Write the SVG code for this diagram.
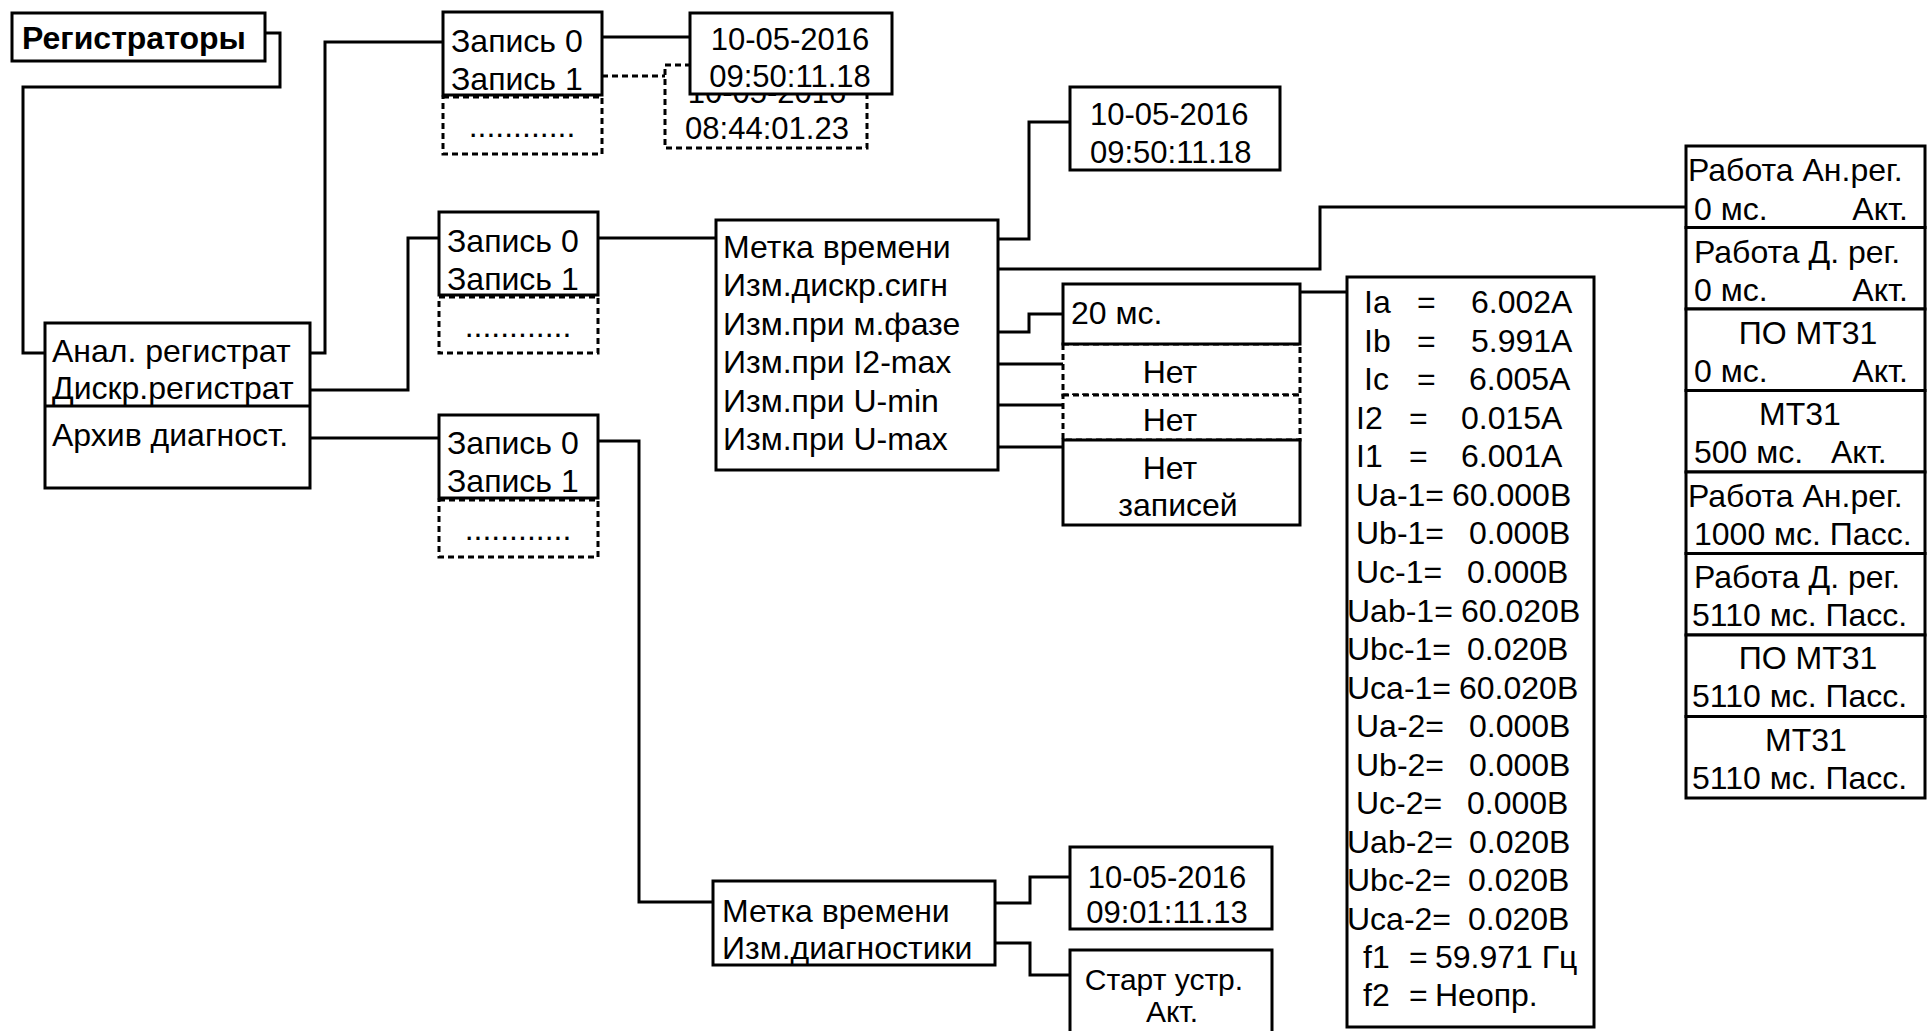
<svg xmlns="http://www.w3.org/2000/svg" width="1931" height="1031" viewBox="0 0 1931 1031">
<style>
.b{fill:#fff;stroke:#000;stroke-width:3}
.d{fill:#fff;stroke:#000;stroke-width:3;stroke-dasharray:6 4}
.c{fill:none;stroke:#000;stroke-width:3}
.cd{fill:none;stroke:#000;stroke-width:3;stroke-dasharray:6 4}
text{font-family:"Liberation Sans",Arial,sans-serif;font-size:32px;fill:#000}
.dt{font-size:31px}
.sm{font-size:30px}
.bold{font-weight:bold}
.m{text-anchor:middle}
.e{text-anchor:end}
</style>
<rect width="1931" height="1031" fill="#fff"/>
<g id="connectors">
<path class="c" d="M265,33 H280 V87 H23 V353 H45"/>
<path class="c" d="M310,353 H325 V42 H443"/>
<path class="c" d="M310,390 H408 V238 H439"/>
<path class="c" d="M310,438 H439"/>
<path class="c" d="M602,37 H690"/>
<path class="cd" d="M602,76 H665"/>
<path class="c" d="M598,238 H716"/>
<path class="c" d="M598,441 H639 V902 H713"/>
<path class="c" d="M998,239 H1029 V122 H1070"/>
<path class="c" d="M998,269 H1320 V207 H1686"/>
<path class="c" d="M998,332 H1029 V314 H1063"/>
<path class="c" d="M998,364 H1063"/>
<path class="c" d="M998,405 H1063"/>
<path class="c" d="M998,447 H1063"/>
<path class="c" d="M1301,292 H1347"/>
<path class="c" d="M995,903 H1030 V877 H1070"/>
<path class="c" d="M995,943 H1030 V975 H1070"/>
</g>
<g id="registratory">
<rect class="b" x="12" y="13" width="253" height="48"/>
<text class="bold" x="22" y="49">Регистраторы</text>
</g>
<g id="menu">
<rect class="b" x="45" y="323" width="265" height="165"/>
<line class="c" x1="45" y1="406" x2="310" y2="406"/>
<text x="52" y="362">Анал. регистрат</text>
<text x="52" y="399">Дискр.регистрат</text>
<text x="52" y="446">Архив диагност.</text>
</g>
<g id="zap-top">
<rect class="d" x="443" y="97" width="159" height="57"/>
<rect class="b" x="443" y="12" width="159" height="83"/>
<text x="451" y="52">Запись 0</text>
<text x="451" y="90">Запись 1</text>
<text class="m" x="522" y="137">............</text>
</g>
<g id="date-old">
<rect class="d" x="665" y="65" width="202" height="83"/>
<text class="m dt" x="767" y="103">10-05-2016</text>
<text class="m dt" x="767" y="139">08:44:01.23</text>
</g>
<g id="date-top">
<rect class="b" x="690" y="13" width="202" height="81"/>
<text class="m dt" x="790" y="50">10-05-2016</text>
<text class="m dt" x="790" y="87">09:50:11.18</text>
</g>
<g id="zap-mid">
<rect class="d" x="439" y="297" width="159" height="56"/>
<rect class="b" x="439" y="212" width="159" height="83"/>
<text x="447" y="252">Запись 0</text>
<text x="447" y="290">Запись 1</text>
<text class="m" x="518" y="337">............</text>
</g>
<g id="zap-bot">
<rect class="d" x="439" y="500" width="159" height="57"/>
<rect class="b" x="439" y="415" width="159" height="83"/>
<text x="447" y="454">Запись 0</text>
<text x="447" y="492">Запись 1</text>
<text class="m" x="518" y="540">............</text>
</g>
<g id="metka">
<rect class="b" x="716" y="220" width="282" height="250"/>
<text x="723" y="258">Метка времени</text>
<text x="723" y="296">Изм.дискр.сигн</text>
<text x="723" y="335">Изм.при м.фазе</text>
<text x="723" y="373">Изм.при I2-max</text>
<text x="723" y="412">Изм.при U-min</text>
<text x="723" y="450">Изм.при U-max</text>
</g>
<g id="date-mid">
<rect class="b" x="1070" y="87" width="210" height="83"/>
<text class="dt" x="1090" y="125">10-05-2016</text>
<text class="dt" x="1090" y="163">09:50:11.18</text>
</g>
<g id="izm">
<rect class="d" x="1063" y="344" width="237" height="51"/>
<rect class="d" x="1063" y="395" width="237" height="45"/>
<rect class="b" x="1063" y="284" width="237" height="60"/>
<rect class="b" x="1063" y="440" width="237" height="85"/>
<text x="1071" y="324">20 мс.</text>
<text class="m" x="1170" y="383">Нет</text>
<text class="m" x="1170" y="431">Нет</text>
<text class="m" x="1170" y="479">Нет</text>
<text class="m" x="1178" y="516">записей</text>
</g>
<g id="values">
<rect class="b" x="1347" y="277" width="247" height="750"/>
<text x="1364" y="313">Ia<tspan x="1417">=</tspan><tspan x="1471">6.002A</tspan></text>
<text x="1364" y="351.6">Ib<tspan x="1417">=</tspan><tspan x="1471">5.991A</tspan></text>
<text x="1364" y="390">Ic<tspan x="1417">=</tspan><tspan x="1469">6.005A</tspan></text>
<text x="1356" y="428.7">I2<tspan x="1409">=</tspan><tspan x="1461">0.015A</tspan></text>
<text x="1356" y="467">I1<tspan x="1409">=</tspan><tspan x="1461">6.001A</tspan></text>
<text x="1356" y="506">Ua-1=<tspan x="1452">60.000B</tspan></text>
<text x="1356" y="544">Ub-1=<tspan x="1469">0.000B</tspan></text>
<text x="1356" y="583">Uc-1=<tspan x="1467">0.000B</tspan></text>
<text x="1347" y="621.5">Uab-1=<tspan x="1461">60.020B</tspan></text>
<text x="1347" y="660">Ubc-1=<tspan x="1467">0.020B</tspan></text>
<text x="1347" y="698.6">Uca-1=<tspan x="1459">60.020B</tspan></text>
<text x="1356" y="737">Ua-2=<tspan x="1469">0.000B</tspan></text>
<text x="1356" y="776">Ub-2=<tspan x="1469">0.000B</tspan></text>
<text x="1356" y="814">Uc-2=<tspan x="1467">0.000B</tspan></text>
<text x="1347" y="853">Uab-2=<tspan x="1469">0.020B</tspan></text>
<text x="1347" y="891">Ubc-2=<tspan x="1468">0.020B</tspan></text>
<text x="1347" y="930">Uca-2=<tspan x="1468">0.020B</tspan></text>
<text x="1363" y="968">f1<tspan x="1409">=</tspan><tspan x="1435">59.971 Гц</tspan></text>
<text x="1363" y="1006">f2<tspan x="1409">=</tspan><tspan x="1435">Неопр.</tspan></text>
</g>
<g id="status">
<rect class="b" x="1686" y="146" width="239" height="81.5"/>
<rect class="b" x="1686" y="227.5" width="239" height="81.5"/>
<rect class="b" x="1686" y="309" width="239" height="81.5"/>
<rect class="b" x="1686" y="390.5" width="239" height="81.5"/>
<rect class="b" x="1686" y="472" width="239" height="81.5"/>
<rect class="b" x="1686" y="553.5" width="239" height="81.5"/>
<rect class="b" x="1686" y="635" width="239" height="81.5"/>
<rect class="b" x="1686" y="716.5" width="239" height="81.5"/>
<text x="1688" y="181">Работа Ан.рег.</text>
<text x="1694" y="220">0 мс.</text><text class="e" x="1908" y="220">Акт.</text>
<text x="1694" y="263">Работа Д. рег.</text>
<text x="1694" y="301">0 мс.</text><text class="e" x="1908" y="301">Акт.</text>
<text class="m" x="1808" y="344">ПО МТ31</text>
<text x="1694" y="382">0 мс.</text><text class="e" x="1908" y="382">Акт.</text>
<text class="m" x="1800" y="425">МТ31</text>
<text x="1694" y="463">500 мс.</text><text x="1831" y="463">Акт.</text>
<text x="1688" y="507">Работа Ан.рег.</text>
<text x="1694" y="545">1000 мс. Пасс.</text>
<text x="1694" y="588">Работа Д. рег.</text>
<text x="1692" y="626">5110 мс. Пасс.</text>
<text class="m" x="1808" y="669">ПО МТ31</text>
<text x="1692" y="707">5110 мс. Пасс.</text>
<text class="m" x="1806" y="751">МТ31</text>
<text x="1692" y="789">5110 мс. Пасс.</text>
</g>
<g id="metka-diag">
<rect class="b" x="713" y="881" width="282" height="84"/>
<text x="722" y="922">Метка времени</text>
<text x="722" y="959">Изм.диагностики</text>
</g>
<g id="date-diag">
<rect class="b" x="1070" y="847" width="202" height="82"/>
<text class="m dt" x="1167" y="888">10-05-2016</text>
<text class="m dt" x="1167" y="923">09:01:11.13</text>
</g>
<g id="start">
<rect class="b" x="1070" y="950" width="202" height="90"/>
<text class="m sm" x="1164" y="990">Старт устр.</text>
<text class="m sm" x="1172" y="1022">Акт.</text>
</g>
</svg>
